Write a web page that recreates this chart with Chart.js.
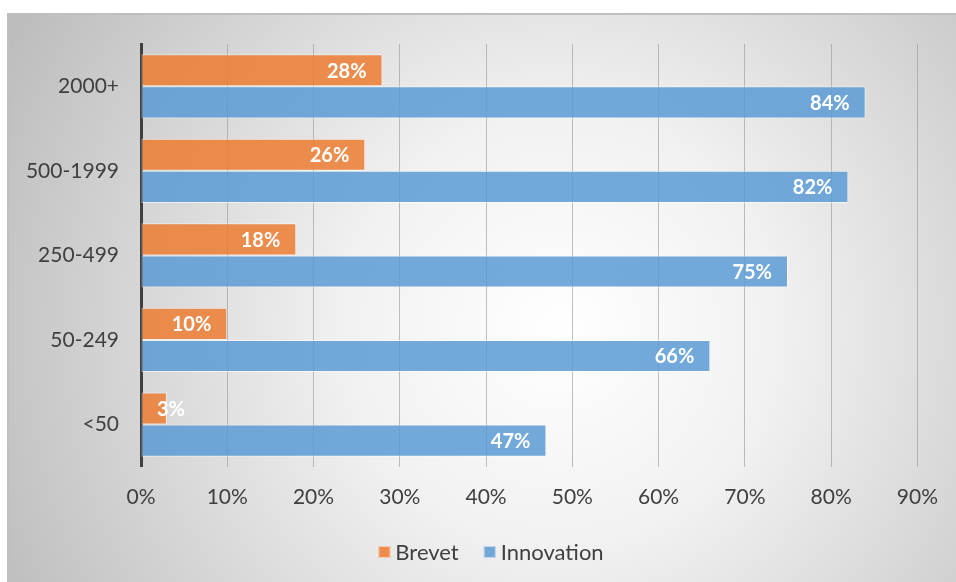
<!DOCTYPE html>
<html>
<head>
<meta charset="utf-8">
<script src="https://cdn.jsdelivr.net/npm/chart.js@4/dist/chart.umd.min.js"></script>
<style>
  html, body { margin: 0; padding: 0; background: #ffffff; }
  #wrap { width: 956px; height: 582px; position: relative; }
</style>
</head>
<body>
<div id="wrap"><canvas id="c" width="956" height="582"></canvas></div>
<script>
// Company size classes, largest at the top
const categories = ['2000+', '500-1999', '250-499', '50-249', '<50'];
// Share of companies (%)
const brevet = [28, 26, 18, 10, 3];
const innovation = [84, 82, 75, 66, 47];
const xTicks = [0, 10, 20, 30, 40, 50, 60, 70, 80, 90];

const FONT = 'Lato, "Open Sans", sans-serif';
const TEXT = '#404040';
const ORANGE = 'rgba(237,125,49,0.85)';
const BLUE = 'rgba(91,155,213,0.85)';
const EDGE = 'rgba(255,255,255,0.55)';

// Framed panel with a soft radial shading behind everything
const panelBackground = {
  id: 'panelBackground',
  beforeDraw(chart) {
    const ctx = chart.ctx;
    const x0 = 8, y0 = 14, x1 = chart.width, y1 = chart.height;
    ctx.save();
    const g = ctx.createRadialGradient(560, 330, 0, 560, 330, 620);
    g.addColorStop(0, '#ffffff');
    g.addColorStop(0.35, '#f1f1f1');
    g.addColorStop(1, '#bdbdbd');
    ctx.fillStyle = g;
    ctx.fillRect(x0, y0, x1 - x0, y1 - y0);
    ctx.strokeStyle = '#bfbfbf';
    ctx.lineWidth = 2;
    ctx.beginPath();
    ctx.moveTo(x0, y1);
    ctx.lineTo(x0, y0);
    ctx.lineTo(x1, y0);
    ctx.stroke();
    ctx.restore();
  }
};

// Value labels placed inside the end of each bar
const barLabels = {
  id: 'barLabels',
  afterDatasetsDraw(chart) {
    const ctx = chart.ctx;
    const left = chart.chartArea.left;
    ctx.save();
    ctx.font = 'bold 20px ' + FONT;
    ctx.fillStyle = '#ffffff';
    ctx.textBaseline = 'middle';
    ctx.textAlign = 'left';
    chart.data.datasets.forEach((ds, di) => {
      const meta = chart.getDatasetMeta(di);
      meta.data.forEach((bar, i) => {
        const txt = ds.data[i] + '%';
        const w = ctx.measureText(txt).width;
        let x = bar.x - 16 - w;
        if (x < left + 16) x = left + 16;
        ctx.fillText(txt, x, bar.y + 1);
      });
    });
    ctx.restore();
  }
};

// Compact legend row centred under the plot
const bottomLegend = {
  id: 'bottomLegend',
  afterDraw(chart) {
    const ctx = chart.ctx;
    const y = 552;
    ctx.save();
    ctx.font = '22px ' + FONT;
    ctx.textBaseline = 'middle';
    ctx.textAlign = 'left';
    const items = chart.data.datasets.map(ds => ({
      text: ds.label,
      color: ds.backgroundColor,
      w: ctx.measureText(ds.label).width
    }));
    const box = 12, gap = 5, between = 25;
    const total = items.reduce((s, it) => s + box + gap + it.w, 0) + between * (items.length - 1);
    let x = 491 - total / 2;
    items.forEach(it => {
      ctx.fillStyle = it.color;
      ctx.fillRect(x, y - box / 2, box, box);
      ctx.strokeStyle = EDGE;
      ctx.lineWidth = 1;
      ctx.strokeRect(x + 0.5, y - box / 2 + 0.5, box - 1, box - 1);
      ctx.fillStyle = TEXT;
      ctx.fillText(it.text, x + box + gap, y + 1);
      x += box + gap + it.w + between;
    });
    ctx.restore();
  }
};

new Chart(document.getElementById('c'), {
  type: 'bar',
  data: {
    labels: categories,
    datasets: [
      {
        label: 'Brevet',
        data: brevet,
        backgroundColor: ORANGE,
        borderColor: EDGE,
        borderWidth: 1,
        borderSkipped: false
      },
      {
        label: 'Innovation',
        data: innovation,
        backgroundColor: BLUE,
        borderColor: EDGE,
        borderWidth: 1,
        borderSkipped: false
      }
    ]
  },
  options: {
    indexAxis: 'y',
    responsive: false,
    animation: false,
    devicePixelRatio: 1,
    layout: { padding: { top: 44, right: 35, bottom: 54, left: 0 } },
    datasets: { bar: { categoryPercentage: 0.76, barPercentage: 1.0 } },
    scales: {
      x: {
        min: 0,
        max: 90,
        afterBuildTicks(scale) { scale.ticks = xTicks.map(v => ({ value: v })); },
        ticks: {
          callback: v => v + '%',
          color: TEXT,
          font: { family: FONT, size: 21 },
          padding: 18
        },
        grid: { color: 'rgba(150,150,150,0.6)', lineWidth: 1, drawTicks: false },
        border: { display: false }
      },
      y: {
        afterFit(scale) { scale.width = 141; },
        ticks: {
          color: TEXT,
          font: { family: FONT, size: 21 },
          padding: 14
        },
        grid: { display: false },
        border: { display: true, color: '#404040', width: 3 }
      }
    },
    plugins: {
      legend: { display: false },
      tooltip: { enabled: false }
    }
  },
  plugins: [panelBackground, barLabels, bottomLegend]
});
</script>
</body>
</html>
